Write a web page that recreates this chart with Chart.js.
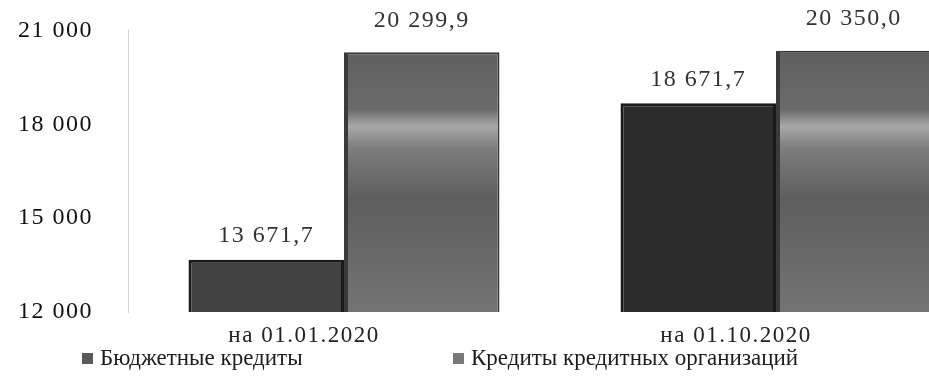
<!DOCTYPE html>
<html>
<head>
<meta charset="utf-8">
<script src="https://cdn.jsdelivr.net/npm/chart.js@4"></script>
<style>
  html, body { margin: 0; padding: 0; background: #fff; overflow: hidden; }
  #wrap { position: relative; width: 1000px; height: 381px; }
  #chartCanvas { position: absolute; left: 0; top: -11px; }
  #legend { position: absolute; left: 0; top: 344px; width: 1000px; height: 30px;
            font: 23px "Liberation Serif", serif; color: #1c1c1c; white-space: nowrap; }
  .item { position: absolute; top: 0; line-height: 28px; }
  .sw { display: inline-block; width: 11px; height: 11px; margin-right: 7px; vertical-align: 1px; }
</style>
</head>
<body>
<div id="wrap">
  <canvas id="chartCanvas" width="1000" height="365"></canvas>
  <div id="legend"></div>
</div>
<script>
// DATA
const categories = ['на 01.01.2020', 'на 01.10.2020'];
const seriesNames = ['Бюджетные кредиты', 'Кредиты кредитных организаций'];
const budgetCredits = [13671.7, 18671.7];
const bankCredits = [20299.9, 20350.0];
const yTicks = [12000, 15000, 18000, 21000];

const fmt = v => v.toLocaleString('ru-RU', { minimumFractionDigits: 1, maximumFractionDigits: 1 });

// gray band gradient for the second series
function bandGradient(ctx) {
    const area = ctx.chart.chartArea;
    if (!area) return '#6a6a6a';
    const g = ctx.chart.ctx.createLinearGradient(0, area.top, 0, area.bottom);
    g.addColorStop(0, '#5c5c5c');
    g.addColorStop(0.28, '#6a6a6a');
    g.addColorStop(0.34, '#a8a8a8');
    g.addColorStop(0.42, '#7c7c7c');
    g.addColorStop(0.6, '#5e5e5e');
    g.addColorStop(1, '#747474');
    return g;
}

// the scan is a bit stretched sideways, widen the text slightly
const wideText = {
    id: 'wideText',
    beforeLayout(chart) { chart.ctx.letterSpacing = '1.5px'; },
    beforeDraw(chart) { chart.ctx.letterSpacing = '1.5px'; }
};

// value labels above bars
const labelGap = [12, 20];
const valueLabels = {
    id: 'valueLabels',
    afterDatasetsDraw(chart) {
        const ctx = chart.ctx;
        ctx.save();
        ctx.font = '24px "Liberation Serif", serif';
        ctx.fillStyle = '#333';
        ctx.textAlign = 'center';
        ctx.textBaseline = 'bottom';
        chart.data.datasets.forEach((ds, i) => {
            chart.getDatasetMeta(i).data.forEach((bar, j) => {
                ctx.fillText(fmt(ds.data[j]), bar.x, bar.y - labelGap[i]);
            });
        });
        ctx.restore();
    }
};

const chart = new Chart(document.getElementById('chartCanvas'), {
    type: 'bar',
    data: {
        labels: categories,
        datasets: [{
            label: seriesNames[0],
            data: budgetCredits,
            backgroundColor: ['#424242', '#2c2c2c'],
            borderColor: '#1a1a1a',
            borderWidth: 3
        }, {
            label: seriesNames[1],
            data: bankCredits,
            backgroundColor: bandGradient,
            borderColor: '#3a3a3a',
            borderWidth: { left: 4, right: 2, top: 2, bottom: 0 }
        }]
    },
    options: {
        responsive: false,
        animation: false,
        layout: { padding: { top: 0, right: 8, left: 0, bottom: 0 } },
        datasets: { bar: { barPercentage: 1, categoryPercentage: 0.72 } },
        plugins: {
            legend: { display: false },
            tooltip: { enabled: false }
        },
        scales: {
            y: {
                min: 12000,
                max: 21000,
                afterFit: s => { s.width = 128; },
                afterBuildTicks: s => { s.ticks = yTicks.map(v => ({ value: v })); },
                grid: { display: false },
                border: { display: true, color: '#d4d4d4', dash: [1, 3], width: 1 },
                ticks: {
                    padding: 27,
                    color: '#111',
                    font: { family: '"Liberation Serif", serif', size: 24 },
                    callback: v => v.toLocaleString('ru-RU')
                }
            },
            x: {
                afterFit: s => { s.height = 42; },
                grid: { display: false },
                border: { display: false },
                ticks: {
                    padding: 2,
                    labelOffset: -40,
                    color: '#222',
                    font: { family: '"Liberation Serif", serif', size: 23 }
                }
            }
        }
    },
    plugins: [wideText, valueLabels]
});

// LEGEND
const legendEl = document.getElementById('legend');
const swatches = ['#5a5a5a', '#7a7a7a'];
const legendX = [82, 453];
seriesNames.forEach((name, i) => {
    const item = document.createElement('span');
    item.className = 'item';
    item.style.left = legendX[i] + 'px';
    item.innerHTML = '<span class="sw" style="background:' + swatches[i] + '"></span>';
    item.appendChild(document.createTextNode(name));
    legendEl.appendChild(item);
});
</script>
</body>
</html>
